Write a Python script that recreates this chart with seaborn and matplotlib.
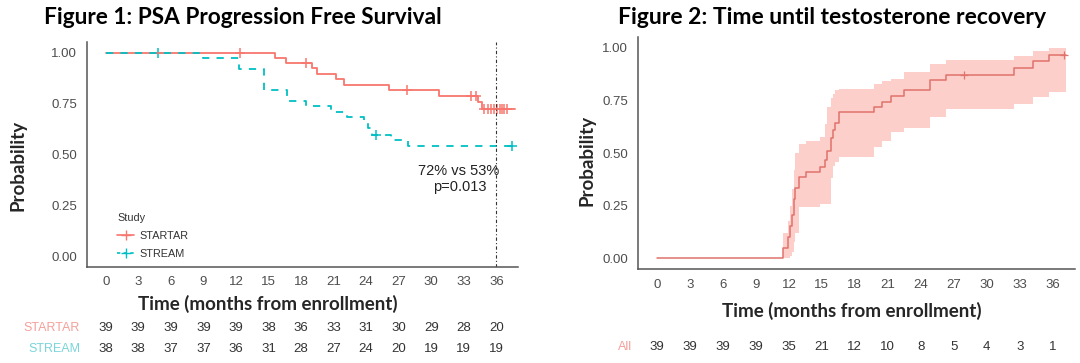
from __future__ import annotations

import matplotlib

matplotlib.use("Agg")
import matplotlib.pyplot as plt
import matplotlib.transforms as mtransforms
import numpy as np
import pandas as pd
import seaborn as sns
from matplotlib.lines import Line2D


# ---- Figure 1: PSA progression free survival ----
startar_time = [0, 15.6, 16.6, 19.0, 19.5, 21.2, 22.0, 26.1, 30.7, 34.3, 34.7]
startar_surv = [1.0, 0.974, 0.949, 0.923, 0.897, 0.870, 0.843, 0.815, 0.786, 0.757, 0.724]
startar_end = 37.7
startar_censor = [12.4, 18.5, 27.8, 33.7, 34.1, 34.9, 35.2, 35.5, 35.8, 36.1, 36.3, 36.5, 36.7, 37.0]

stream_time = [0, 9.0, 12.3, 14.6, 16.7, 18.5, 20.8, 22.2, 23.8, 24.2, 24.5, 26.3, 27.9]
stream_surv = [1.0, 0.974, 0.921, 0.818, 0.765, 0.737, 0.710, 0.684, 0.658, 0.631, 0.595, 0.570, 0.543]
stream_end = 37.5
stream_censor = [4.8, 24.9, 37.4]

risk_times = [0, 3, 6, 9, 12, 15, 18, 21, 24, 27, 30, 33, 36]
startar_risk = [39, 39, 39, 39, 39, 38, 36, 33, 31, 30, 29, 28, 20]
stream_risk = [38, 38, 37, 37, 36, 31, 28, 27, 24, 20, 19, 19, 19]

# ---- Figure 2: time until testosterone recovery ----
recov_time = [0, 11.5, 11.9, 12.1, 12.3, 12.45, 12.6, 12.9, 13.6, 14.8, 15.3, 15.5, 15.8,
              16.0, 16.2, 16.6, 19.7, 20.5, 21.3, 22.45, 24.8, 26.25, 32.5, 34.2, 35.7]
recov_prob = [0, 0.051, 0.103, 0.154, 0.205, 0.282, 0.333, 0.385, 0.410, 0.436, 0.470, 0.51,
              0.57, 0.61, 0.645, 0.695, 0.718, 0.742, 0.774, 0.798, 0.848, 0.872, 0.905, 0.937, 0.968]
recov_lower = [0, 0, 0, 0.01, 0.03, 0.08, 0.12, 0.245, 0.245, 0.26, 0.26, 0.26, 0.38,
               0.44, 0.46, 0.48, 0.53, 0.56, 0.60, 0.62, 0.67, 0.71, 0.734, 0.766, 0.79]
recov_upper = [0, 0.12, 0.18, 0.25, 0.33, 0.42, 0.50, 0.545, 0.56, 0.576, 0.64, 0.72, 0.76,
               0.78, 0.80, 0.806, 0.83, 0.845, 0.853, 0.884, 0.924, 0.943, 0.963, 0.987, 1.0]
recov_end = 37.2
recov_censor = [27.9, 37.0]
recov_risk = [39, 39, 39, 39, 35, 21, 12, 10, 8, 5, 4, 3, 1]

RED = "#F8766D"
TEAL = "#00BFC4"
AXIS_GREY = "#555555"
TICK_TEXT = "#4D4D4D"
TITLE_FONT = "Lato"
BODY_FONT = "Liberation Sans"


def step_frame(times, values, end):
    return pd.DataFrame({"time": list(times) + [end], "value": list(values) + [values[-1]]})


def value_at(times, values, t):
    idx = np.searchsorted(np.asarray(times), t, side="right") - 1
    return np.asarray(values)[idx]


def style_axes(ax):
    sns.despine(ax=ax)
    for side in ("left", "bottom"):
        ax.spines[side].set_color(AXIS_GREY)
        ax.spines[side].set_linewidth(1.1)
    ax.set_xlim(-1.75, 38.0)
    ax.set_ylim(-0.05, 1.052)
    ax.set_xticks(risk_times)
    ax.set_yticks([0, 0.25, 0.5, 0.75, 1.0])
    ax.set_yticklabels(["0.00", "0.25", "0.50", "0.75", "1.00"])
    ax.tick_params(colors=AXIS_GREY, labelcolor=TICK_TEXT, length=3.5, width=0.9, labelsize=9.5)
    for lab in ax.get_xticklabels() + ax.get_yticklabels():
        lab.set_fontfamily(BODY_FONT)
    ax.set_xlabel("Time (months from enrollment)", fontfamily=TITLE_FONT, fontweight="bold",
                  fontsize=13.5, va="center")
    ax.set_ylabel("Probability", fontfamily=TITLE_FONT, fontweight="bold", fontsize=13.5,
                  va="center")
    ax.grid(False)


def main() -> None:
    sns.set_theme(style="white")
    fig = plt.figure(figsize=(10.8, 3.63), dpi=100)
    ax1 = fig.add_axes([0.0803, 0.2653, 0.3994, 0.619])
    ax2 = fig.add_axes([0.5905, 0.259, 0.4046, 0.639])

    # ---- left panel ----
    st = step_frame(startar_time, startar_surv, startar_end)
    sr = step_frame(stream_time, stream_surv, stream_end)
    sns.lineplot(data=st, x="time", y="value", ax=ax1, color=RED, lw=1.3,
                 drawstyle="steps-post", estimator=None, sort=False)
    sns.lineplot(data=sr, x="time", y="value", ax=ax1, color=TEAL, lw=1.3,
                 drawstyle="steps-post", estimator=None, sort=False, linestyle=(0, (4, 4)))
    sns.scatterplot(x=startar_censor, y=value_at(startar_time, startar_surv, startar_censor),
                    ax=ax1, marker="+", color=RED, s=55, linewidth=1.1)
    sns.scatterplot(x=stream_censor, y=value_at(stream_time, stream_surv, stream_censor),
                    ax=ax1, marker="+", color=TEAL, s=55, linewidth=1.1)
    ax1.axvline(36, color="#333333", lw=0.8, linestyle=(0, (3, 2, 1, 2)))
    style_axes(ax1)
    ax1.yaxis.set_label_coords(-0.159, 0.45)
    ax1.xaxis.set_label_coords(0.42, -0.166)

    ax1.text(32.5, 0.42, "72% vs 53%", fontfamily=BODY_FONT, fontsize=10.5, color="#222222",
             ha="center", va="center")
    ax1.text(32.6, 0.34, "p=0.013", fontfamily=BODY_FONT, fontsize=10.5, color="#222222",
             ha="center", va="center")

    handles = [
        Line2D([0], [0], color=RED, lw=1.2, marker="+", markersize=7),
        Line2D([0], [0], color=TEAL, lw=1.2, linestyle=(0, (2, 2)), marker="+", markersize=7),
    ]
    leg = ax1.legend(handles, ["STARTAR", "STREAM"], title="Study", loc="lower left",
                     bbox_to_anchor=(0.058, 0.01), frameon=False, handlelength=1.6,
                     handletextpad=0.5, labelspacing=0.75, borderpad=0,
                     prop={"family": BODY_FONT, "size": 7.8}, alignment="left")
    leg.get_title().set_fontfamily(BODY_FONT)
    leg.get_title().set_fontsize(7.8)
    leg.get_title().set_color("#333333")
    for txt in leg.get_texts():
        txt.set_color("#333333")

    ax1.set_title("Figure 1: PSA Progression Free Survival", fontfamily=TITLE_FONT,
                  fontweight="bold", fontsize=16.3, x=0.361, y=1.045, color="black")

    trans1 = mtransforms.blended_transform_factory(ax1.transData, fig.transFigure)
    for t, a, b in zip(risk_times, startar_risk, stream_risk):
        ax1.text(t, 1 - 328 / 363, str(a), transform=trans1, ha="center", va="center",
                 fontfamily=BODY_FONT, fontsize=9.5, color="#333333")
        ax1.text(t, 1 - 349 / 363, str(b), transform=trans1, ha="center", va="center",
                 fontfamily=BODY_FONT, fontsize=9.5, color="#333333")
    fig.text(80 / 1080, 1 - 328 / 363, "STARTAR", ha="right", va="center",
             fontfamily=BODY_FONT, fontsize=9, color="#F4A09A")
    fig.text(80 / 1080, 1 - 349 / 363, "STREAM", ha="right", va="center",
             fontfamily=BODY_FONT, fontsize=9, color="#79D5D8")

    # ---- right panel ----
    band_t = list(recov_time) + [recov_end]
    ax2.fill_between(band_t, list(recov_lower) + [recov_lower[-1]],
                     list(recov_upper) + [recov_upper[-1]], step="post",
                     color="#FCCFCB", linewidth=0)
    rc = step_frame(recov_time, recov_prob, recov_end)
    sns.lineplot(data=rc, x="time", y="value", ax=ax2, color="#E0736B", lw=1.1,
                 drawstyle="steps-post", estimator=None, sort=False)
    sns.scatterplot(x=recov_censor, y=value_at(recov_time, recov_prob, recov_censor),
                    ax=ax2, marker="+", color="#E0736B", s=40, linewidth=0.9)
    style_axes(ax2)
    ax2.yaxis.set_label_coords(-0.116, 0.47)
    ax2.xaxis.set_label_coords(0.49, -0.181)
    ax2.set_title("Figure 2: Time until testosterone recovery", fontfamily=TITLE_FONT,
                  fontweight="bold", fontsize=16.5, x=0.445, y=1.022, color="black")

    trans2 = mtransforms.blended_transform_factory(ax2.transData, fig.transFigure)
    for t, n in zip(risk_times, recov_risk):
        ax2.text(t, 1 - 347 / 363, str(n), transform=trans2, ha="center", va="center",
                 fontfamily=BODY_FONT, fontsize=9.5, color="#333333")
    fig.text(632 / 1080, 1 - 347 / 363, "All", ha="right", va="center",
             fontfamily=BODY_FONT, fontsize=9, color="#F4A09A")

    fig.savefig("out.png", dpi=100, facecolor="white")
    plt.close(fig)


if __name__ == "__main__":
    main()
